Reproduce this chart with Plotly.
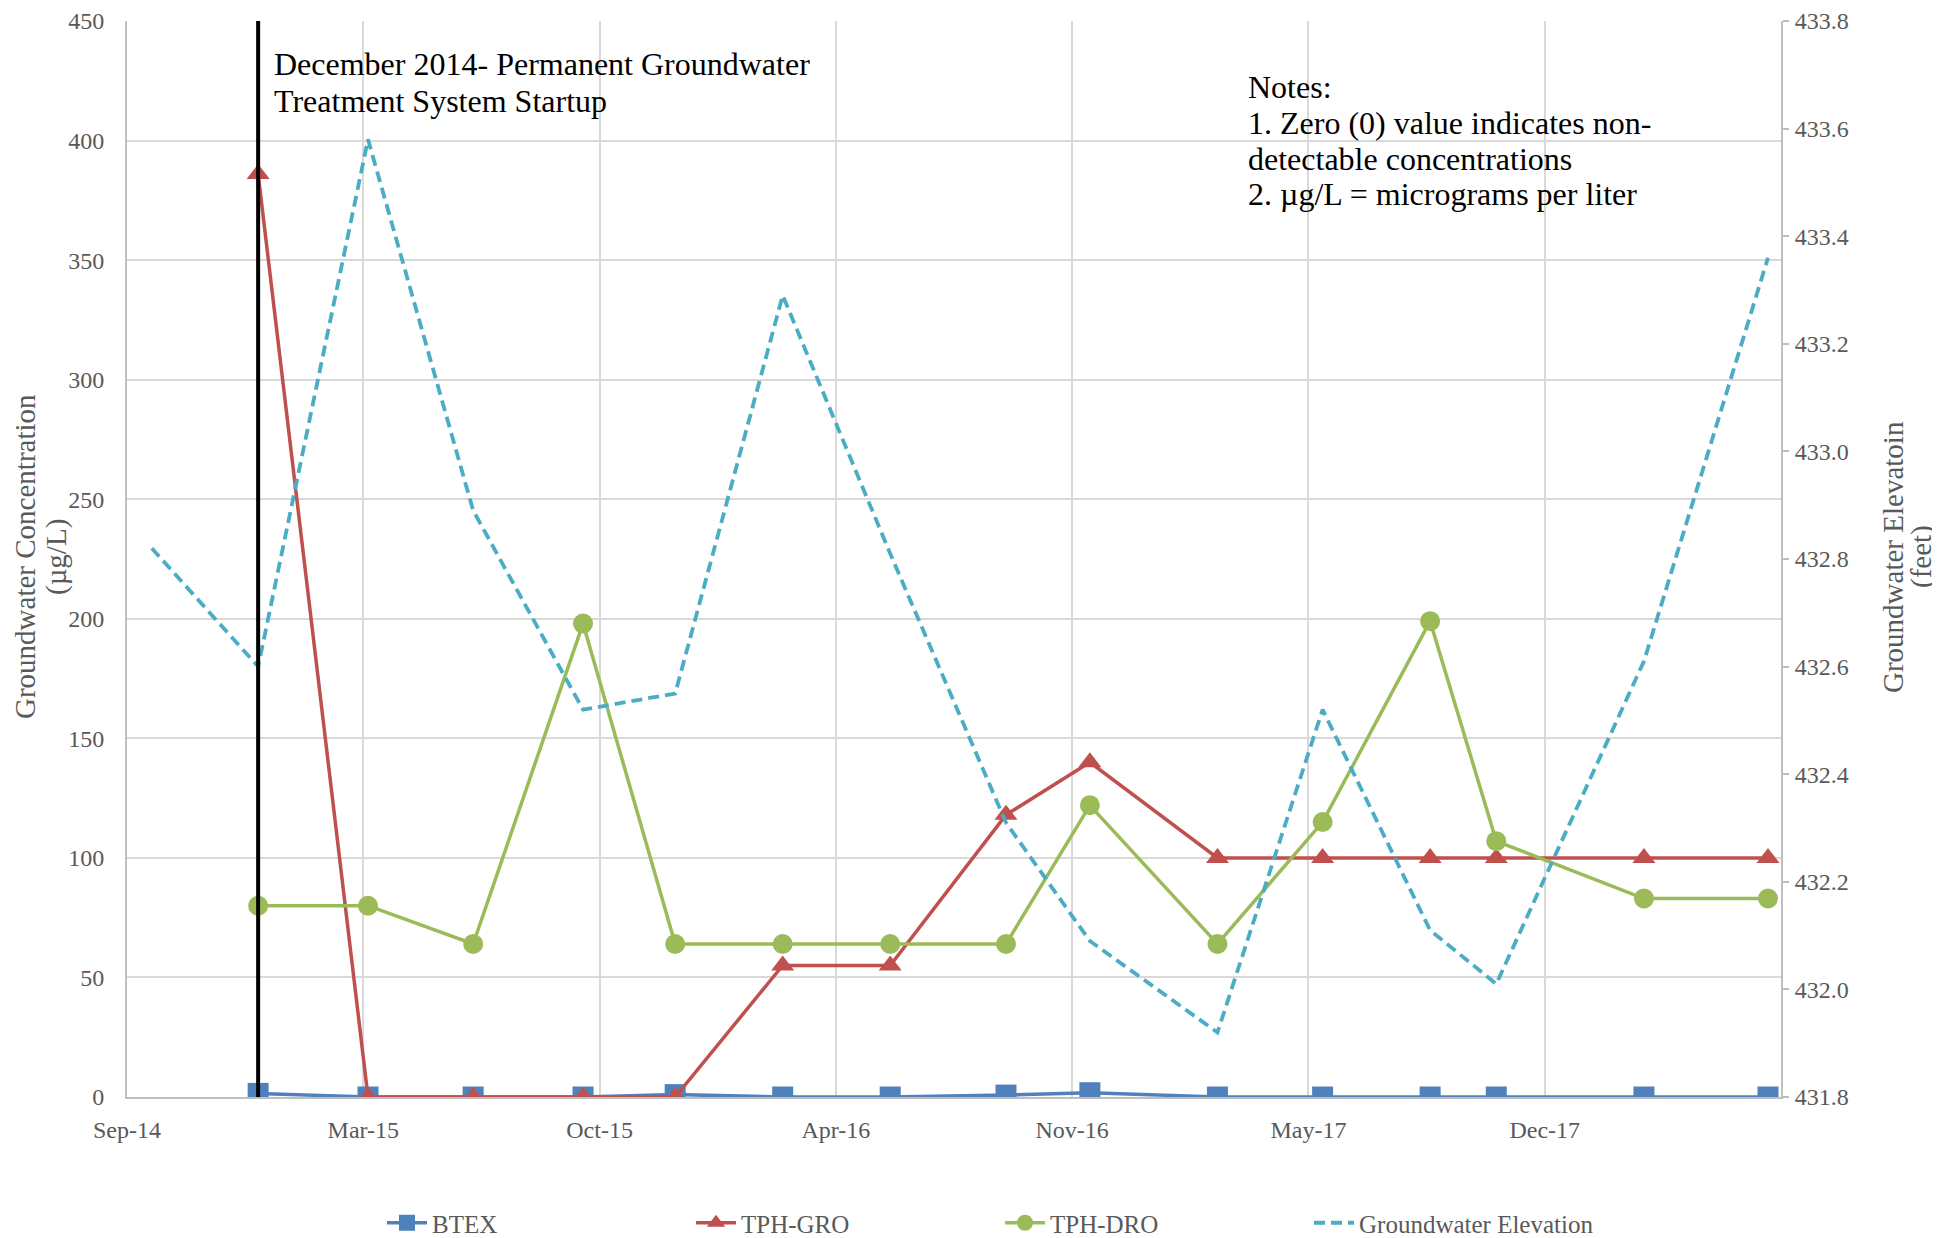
import pandas as pd
import plotly.graph_objects as go

# ---------------- data ----------------
sample_dates = ["2014-12-21", "2015-03-24", "2015-06-21", "2015-09-22", "2015-12-09",
                "2016-03-09", "2016-06-08", "2016-09-14", "2016-11-24", "2017-03-12",
                "2017-06-09", "2017-09-08", "2017-11-03", "2018-03-08", "2018-06-21"]
btex = [1.5, 0, 0, 0, 1.0, 0, 0, 0.8, 1.8, 0, 0, 0, 0, 0, 0]
tph_gro = [386, 0, 0, 0, 0, 55, 55, 118, 140, 100, 100, 100, 100, 100, 100]
tph_dro = [80, 80, 64, 198, 64, 64, 64, 64, 122, 64, 115, 199, 107, 83, 83]

gw_dates = ["2014-09-22"] + sample_dates
gw_elev = [432.82, 432.60, 433.58, 432.89, 432.52, 432.55, 433.29, 432.81, 432.31,
           432.09, 431.92, 432.52, 432.11, 432.01, 432.61, 433.36]

startup_date = "2014-12-21"

x_tick_dates = ["2014-09-01", "2015-03-20", "2015-10-06", "2016-04-23",
                "2016-11-09", "2017-05-28", "2017-12-14"]
x_tick_labels = ["Sep-14", "Mar-15", "Oct-15", "Apr-16", "Nov-16", "May-17", "Dec-17"]
x_range = ["2014-09-01", "2018-07-02"]

startup_lines = ["December 2014- Permanent Groundwater", "Treatment System Startup"]
notes_lines = ["Notes:", "1. Zero (0) value indicates non-", "detectable concentrations",
               "2. µg/L = micrograms per liter"]
left_title_lines = ["Groundwater Concentration", "(µg/L)"]
right_title_lines = ["Groundwater Elevatoin", "(feet)"]

# ---------------- styling ----------------
FONT = "Liberation Serif, Times New Roman, serif"
GREY_TXT = "#595959"
GRID = "#D9D9D9"
AXIS = "#BFBFBF"

OFF = 8  # default page body margin
SCREEN_W, SCREEN_H = 1940, 1238
W, H = SCREEN_W - OFF, SCREEN_H - OFF
# plot area in screen pixels: x 127..1781, y 21..1097
ML, MT = 127 - OFF, 21 - OFF
MR, MB = SCREEN_W - 1781, SCREEN_H - 1097
PW, PH = W - ML - MR, H - MT - MB


def px_x(x):  # screen px -> paper x
    return (x - OFF - ML) / PW


def px_y(y):  # screen px -> paper y
    return (H - MB - (y - OFF)) / PH


fig = go.Figure()

fig.add_trace(go.Scatter(
    x=pd.to_datetime(sample_dates), y=btex, name="BTEX", mode="lines+markers",
    line=dict(color="#4F81BD", width=3.5),
    marker=dict(symbol="square", size=21, color="#4F81BD"),
))
fig.add_trace(go.Scatter(
    x=pd.to_datetime(sample_dates), y=tph_gro, name="TPH-GRO", mode="lines+markers",
    line=dict(color="#C0504D", width=3.5),
    marker=dict(symbol="triangle-up", size=20, color="#C0504D"),
))
fig.add_trace(go.Scatter(
    x=pd.to_datetime(sample_dates), y=tph_dro, name="TPH-DRO", mode="lines+markers",
    line=dict(color="#9BBB59", width=3.5),
    marker=dict(symbol="circle", size=20, color="#9BBB59"),
))
fig.add_trace(go.Scatter(
    x=pd.to_datetime(gw_dates), y=gw_elev, name="Groundwater Elevation", mode="lines",
    line=dict(color="#4BACC6", width=3.8, dash="11px,6px"),
    yaxis="y2",
))

# startup marker line
fig.add_shape(type="line", xref="x", yref="y",
              x0=pd.to_datetime(startup_date), x1=pd.to_datetime(startup_date),
              y0=0, y1=450, line=dict(color="black", width=4), layer="above")

# startup text
for i, t in enumerate(startup_lines):
    fig.add_annotation(text=t, xref="paper", yref="paper",
                       x=px_x(272), y=px_y(64 + 37 * i), xanchor="left", yanchor="middle",
                       showarrow=False, font=dict(family=FONT, size=32, color="black"))

# notes text
for i, t in enumerate(notes_lines):
    fig.add_annotation(text=t, xref="paper", yref="paper",
                       x=px_x(1246), y=px_y(87 + 35.8 * i), xanchor="left", yanchor="middle",
                       showarrow=False, font=dict(family=FONT, size=32, color="black"))

# axis titles
for xc, t in zip([25, 56], left_title_lines):
    fig.add_annotation(text=t, textangle=-90, xref="paper", yref="paper",
                       x=px_x(xc), y=px_y(557), xanchor="center", yanchor="middle",
                       showarrow=False, font=dict(family=FONT, size=29, color=GREY_TXT))
for xc, t in zip([1893, 1921], right_title_lines):
    fig.add_annotation(text=t, textangle=-90, xref="paper", yref="paper",
                       x=px_x(xc), y=px_y(557), xanchor="center", yanchor="middle",
                       showarrow=False, font=dict(family=FONT, size=29, color=GREY_TXT))

fig.update_layout(
    width=W, height=H,
    margin=dict(l=ML, r=MR, t=MT, b=MB, autoexpand=False),
    paper_bgcolor="white", plot_bgcolor="white",
    font=dict(family=FONT, size=24, color=GREY_TXT),
    showlegend=True,
    legend=dict(orientation="h", xref="container", yref="container",
                x=(1000 - OFF) / W, y=1 - (1223 - OFF) / H, xanchor="center", yanchor="middle",
                font=dict(family=FONT, size=25, color=GREY_TXT),
                entrywidth=254, itemwidth=40, bgcolor="rgba(0,0,0,0)"),
    xaxis=dict(
        type="date", range=x_range, automargin=False,
        tickvals=pd.to_datetime(x_tick_dates), ticktext=x_tick_labels,
        showgrid=True, gridcolor=GRID, gridwidth=2,
        showline=True, linecolor=AXIS, linewidth=2,
        ticks="", ticklabelstandoff=10,
        tickfont=dict(family=FONT, size=24, color=GREY_TXT),
        zeroline=False,
    ),
    yaxis=dict(
        range=[0, 450], dtick=50, tick0=0, automargin=False,
        showgrid=True, gridcolor=GRID, gridwidth=2,
        showline=True, linecolor=AXIS, linewidth=2,
        ticks="", ticklabelstandoff=16,
        tickfont=dict(family=FONT, size=24, color=GREY_TXT),
        zeroline=False,
    ),
    yaxis2=dict(
        range=[431.8, 433.8], dtick=0.2, tick0=431.8, tickformat=".1f",
        overlaying="y", side="right", showgrid=False, automargin=False,
        showline=True, linecolor=AXIS, linewidth=2,
        ticks="outside", ticklen=6, tickcolor=AXIS, tickwidth=2,
        ticklabelstandoff=1,
        tickfont=dict(family=FONT, size=24, color=GREY_TXT),
        zeroline=False,
    ),
)

fig.write_html("out.html")
